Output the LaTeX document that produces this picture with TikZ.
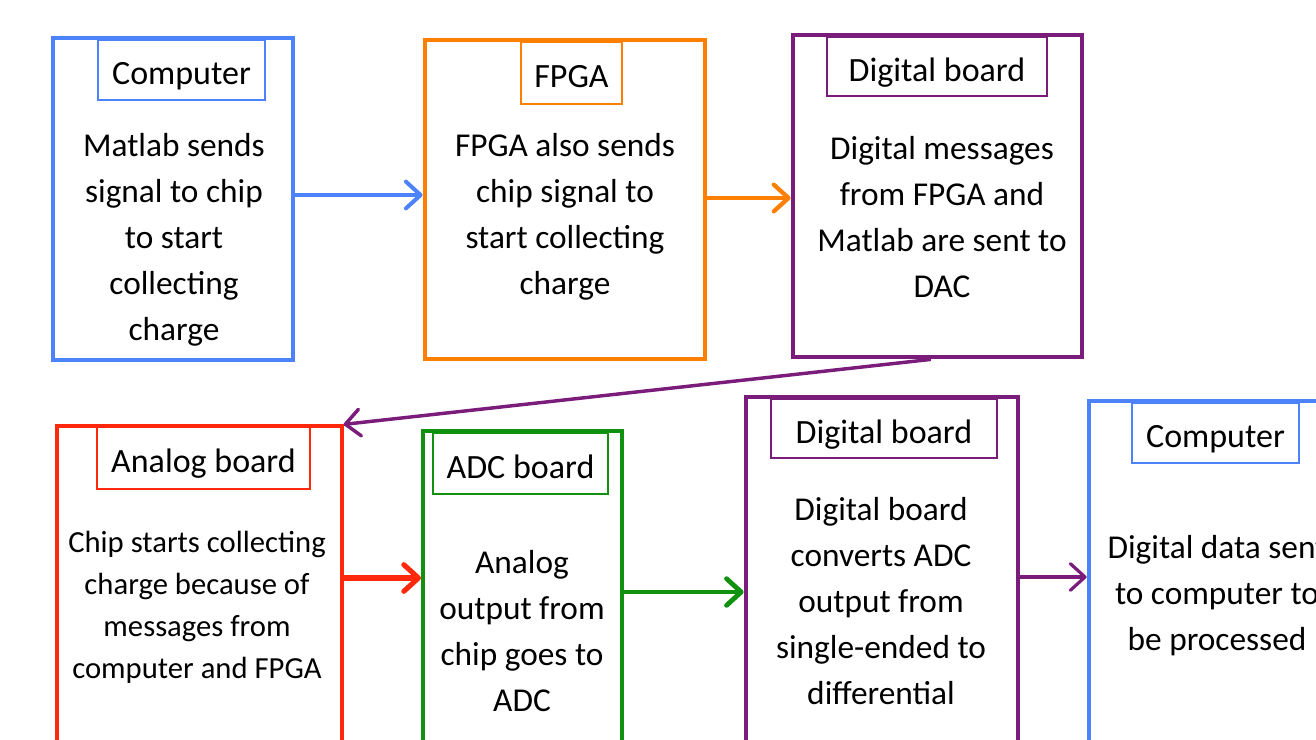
\documentclass[tikz,border=0pt]{standalone}
\usepackage{fontspec}
\setmainfont{Carlito}
\usetikzlibrary{arrows.meta}

\definecolor{cblue}{RGB}{76,130,252}
\definecolor{corange}{RGB}{255,128,0}
\definecolor{cpurple}{RGB}{122,28,122}
\definecolor{cred}{RGB}{255,40,10}
\definecolor{cgreen}{RGB}{16,145,16}

\tikzset{
  stage/.style={draw=#1, line width=3.6pt, rectangle, inner sep=0pt},
  tag/.style={draw=#1, line width=1.5pt, rectangle, inner sep=0pt,
              text height=23.5pt, text depth=1.5pt,
              font=\fontsize{25.5}{30}\selectfont},
  body/.style={align=center, inner sep=0pt,
               font=\fontsize{25}{34.5}\selectfont},
  smallbody/.style={align=center, inner sep=0pt,
               font=\fontsize{23}{31.5}\selectfont},
  flow/.style={draw=#1, line width=3.2pt,
               -{Straight Barb[length=11pt,width=20pt,round]}},
}

\begin{document}
\begin{tikzpicture}[x=0.75pt,y=-0.75pt]
\useasboundingbox (0,0) rectangle (1316,739);
\clip (0,0) rectangle (1316,739);

% ---- first row ----
\node[stage=cblue, minimum width=180pt, minimum height=241.5pt] (b1) at (173,199) {};
\node[tag=cblue, minimum width=125.25pt, minimum height=45pt] (t1) at (181.5,70) {Computer};
\node[body] (x1) at (174,240) {Matlab sends\\signal to chip\\to start\\collecting\\charge};

\node[stage=corange, minimum width=210pt, minimum height=239.25pt] (b2) at (565,199.5) {};
\node[tag=corange, minimum width=75.75pt, minimum height=46.5pt] (t2) at (571.5,73) {FPGA};
\node[body] (x2) at (565,217) {FPGA also sends\\chip signal to\\start collecting\\charge};

\node[stage=cpurple, minimum width=216.75pt, minimum height=241.5pt] (b3) at (937.5,196) {};
\node[tag=cpurple, minimum width=165pt, minimum height=44.25pt] (t3) at (937,66.5) {Digital board};
\node[body] (x3) at (942,217) {Digital messages\\from FPGA and\\Matlab are sent to\\DAC};

% ---- second row (runs past the lower edge) ----
\node[stage=cred, line width=2.4pt, minimum width=213.75pt, minimum height=318pt] (b4) at (199.5,638) {};
\node[tag=cred, minimum width=159.75pt, minimum height=47.25pt] (t4) at (203.5,457.5) {Analog board};
\node[smallbody] (x4) at (197,607) {Chip starts collecting\\charge because of\\messages from\\computer and FPGA};

\node[stage=cgreen, line width=3pt, minimum width=149.25pt, minimum height=314.25pt] (b5) at (522.5,640.5) {};
\node[tag=cgreen, minimum width=131.25pt, minimum height=45.75pt] (t5) at (520.5,463.5) {ADC board};
\node[body] (x5) at (522,631) {Analog\\output from\\chip goes to\\ADC};

\node[stage=cpurple, minimum width=204pt, minimum height=339.75pt] (b6) at (882,623.5) {};
\node[tag=cpurple, minimum width=169.5pt, minimum height=44.25pt] (t6) at (884,428.5) {Digital board};
\node[body] (x6) at (881,601) {Digital board\\converts ADC\\output from\\single-ended to\\differential};

\node[stage=cblue, minimum width=233.25pt, minimum height=336.75pt] (b7) at (1244.5,625.5) {};
\node[tag=cblue, minimum width=125.25pt, minimum height=45pt] (t7) at (1215.5,433) {Computer};
\node[body] (x7) at (1217,596) {Digital data sent\\to computer to\\be processed};

% ---- connectors ----
\coordinate (lvA) at (0,195);
\coordinate (lvB) at (0,198);
\coordinate (lvC) at (0,578);
\coordinate (lvD) at (0,592);
\coordinate (lvE) at (0,577);

\draw[flow=cblue, line width=3pt] (b1.east |- lvA) -- (b2.west |- lvA);
\draw[flow=corange] (b2.east |- lvB) -- (b3.west |- lvB);
\draw[flow=cpurple, line width=2.6pt] ([xshift=-5pt]b3.south) -- (b4.north east);
\draw[flow=cred, line width=3.8pt] (b4.east |- lvC) -- (b5.west |- lvC);
\draw[flow=cgreen, line width=3.6pt] (b5.east |- lvD) -- (b6.west |- lvD);
\draw[flow=cpurple, line width=2.4pt] (b6.east |- lvE) -- (b7.west |- lvE);
\end{tikzpicture}
\end{document}
